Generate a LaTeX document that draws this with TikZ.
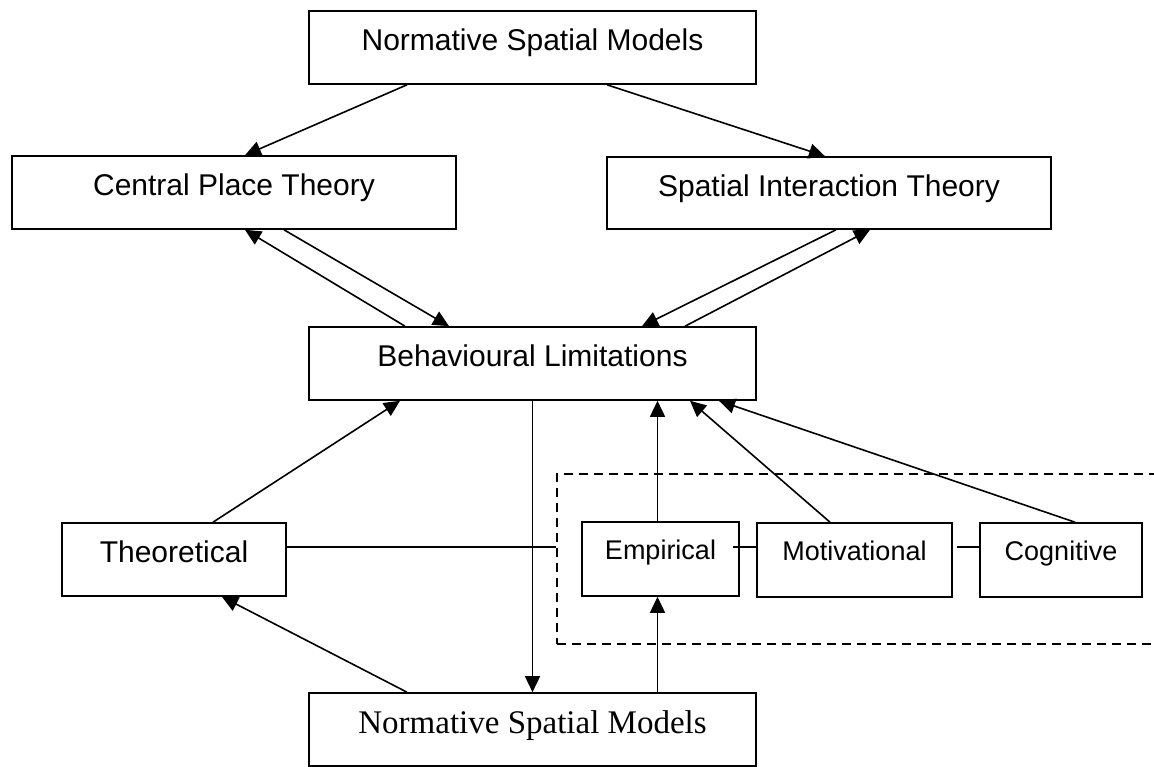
\documentclass[tikz,border=0pt]{standalone}
\usepackage{fontspec}
\setmainfont{Liberation Sans}
\newfontfamily\serifface{Liberation Serif}
\usetikzlibrary{arrows.meta}
\begin{document}
\begin{tikzpicture}[x=1pt,y=-1pt,
  line width=1.6pt,
  box/.style={draw, inner sep=0pt, minimum height=73pt,
    font=\fontsize{30}{36}\selectfont, text height=21.5pt, text depth=15pt},
  smallbox/.style={box, minimum height=74pt,
    font=\fontsize{27}{32}\selectfont, text height=19.3pt, text depth=19pt},
  seribox/.style={box, font=\serifface\fontsize{33}{40}\selectfont,
    text height=21.8pt, text depth=13pt},
  group/.style={draw, dashed, dash pattern=on 9pt off 6pt, line width=1.3pt, inner sep=0pt},
  arr/.style={-{Triangle[length=16pt,width=15pt]}},
  link/.style={draw}]
\useasboundingbox (0,0) rectangle (1154,767);

% boxes
\node[box, minimum width=447pt] (nmsTop) at (532.5,47.5) {Normative Spatial Models};
\node[box, minimum width=444pt] (cpt) at (234,192.5) {Central Place Theory};
\node[box, minimum width=444pt, minimum height=72pt] (sit) at (829,193) {Spatial Interaction Theory};
\node[box, minimum width=447pt] (beh) at (532.5,363.5) {Behavioural Limitations};
\node[box, minimum width=224pt] (theo) at (174,559.5) {Theoretical};
\node[group, minimum width=613pt, minimum height=170pt] (grp) at (863.5,559) {};
\node[smallbox, minimum width=157pt] (emp) at (660.5,559) {Empirical};
\node[smallbox, minimum width=195pt] (mot) at (854.5,560) {Motivational};
\node[smallbox, minimum width=162pt] (cog) at (1061,560) {Cognitive};
\node[seribox, minimum width=447pt] (nmsBot) at (532.5,729.5) {Normative Spatial Models};

% top level
\draw[arr] ([xshift=-125.5pt]nmsTop.south) -- ([xshift=11pt]cpt.north);
\draw[arr] ([xshift=74.5pt]nmsTop.south) -- ([xshift=-4pt]sit.north);

% theories and behavioural limitations
\draw[arr] ([xshift=-127.5pt]beh.north) -- ([xshift=11pt]cpt.south);
\draw[arr] ([xshift=50pt]cpt.south) -- ([xshift=-83.5pt]beh.north);
\draw[arr] ([xshift=7pt]sit.south) -- ([xshift=109.5pt]beh.north);
\draw[arr] ([xshift=152.5pt]beh.north) -- ([xshift=41pt]sit.south);

% lower part
\draw[arr] ([xshift=39pt]theo.north) -- ([xshift=-132.5pt]beh.south);
\draw[arr] (beh.south) -- (nmsBot.north);
\draw[arr] ([xshift=-125.5pt]nmsBot.north) -- ([xshift=48pt]theo.south);
\draw[arr] ([xshift=125pt]nmsBot.north) -- ([xshift=125pt]nmsBot.north |- emp.south);
\draw[arr] ([xshift=-3pt]emp.north) -- ([xshift=-3pt]emp.north |- beh.south);
\draw[arr] ([xshift=-24.5pt]mot.north) -- ([xshift=157.5pt]beh.south);
\draw[arr] ([xshift=14pt]cog.north) -- ([xshift=186.5pt]beh.south);

% plain links
\draw[link] ([yshift=12.5pt]theo.east) -- ([yshift=12.5pt]theo.east -| grp.west);
\draw[link] ([xshift=-7pt,yshift=12pt]emp.east) -- ([yshift=13pt]mot.west);
\draw[link] ([xshift=4pt,yshift=13pt]mot.east) -- ([yshift=13pt]cog.west);
\end{tikzpicture}
\end{document}
